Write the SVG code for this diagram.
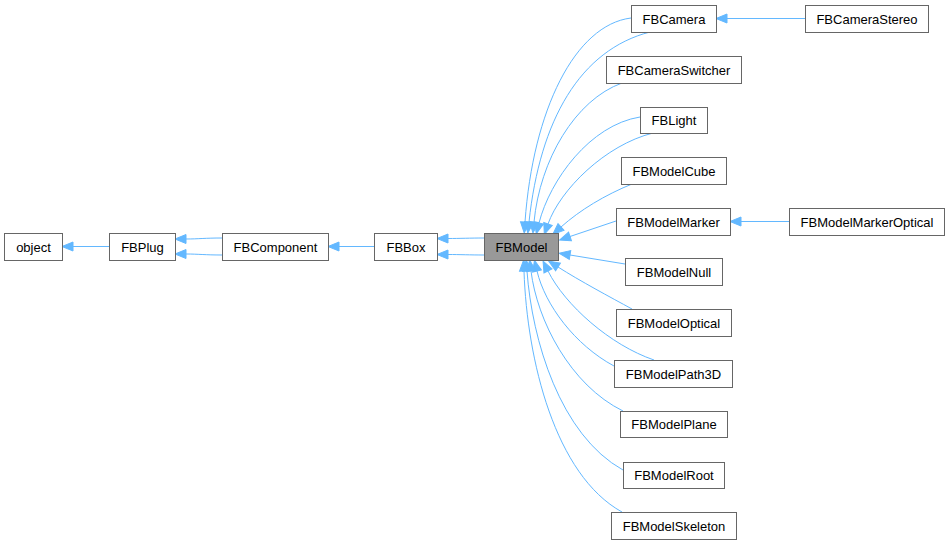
<svg xmlns="http://www.w3.org/2000/svg" width="949" height="544" viewBox="0 0 949 544">
<style>
.n rect{fill:#ffffff;stroke:#666666;stroke-width:1}
.n.cur rect{fill:#999999}
.n text{font-family:"Liberation Sans",Arial,sans-serif;font-size:13px;fill:#000000;text-anchor:middle}
.e path{fill:none;stroke:#63b8ff;stroke-width:1;marker-end:url(#ah)}
</style>
<defs>
<marker id="ah" markerUnits="userSpaceOnUse" markerWidth="11" markerHeight="9" viewBox="0 0 11 9" refX="0" refY="4.5" orient="auto" overflow="visible">
<path d="M0,0 L11,4.5 L0,9 Z" fill="#63b8ff" stroke="#63b8ff" stroke-width="1"/>
</marker>
</defs>
<g id="connectors" class="e">
<path d="M109,246.5 L73,246.5"/>
<path d="M222,238 C205,238 198,239 186,239"/>
<path d="M222,255 C205,255 198,254 186,254"/>
<path d="M374,246.5 L339,246.5"/>
<path d="M484,238 C470,238 460,238.5 448,238.5"/>
<path d="M484,255 C470,255 460,254.5 448,254.5"/>
<path d="M805,18.5 L727,18.5"/>
<path d="M789,221.5 L741,221.5"/>
<path d="M631,18 C575,25 533,110 525,222"/>
<path d="M650,32 C580,50 540,120 529,222"/>
<path d="M622,83 C575,100 540,160 534,222"/>
<path d="M640,117 C590,125 550,180 539,223"/>
<path d="M653,133 C605,145 560,190 548,224"/>
<path d="M632,184 C605,195 580,210 561,227"/>
<path d="M616,221 L570,236.5"/>
<path d="M625,264 L570,255"/>
<path d="M632,309 C610,297 580,281 558,267"/>
<path d="M654,360 C610,345 565,305 548,271"/>
<path d="M614,366 C575,345 545,305 537,271"/>
<path d="M623,411 C570,385 537,320 531,271"/>
<path d="M623,470 C560,435 532,340 527,271"/>
<path d="M622,512 C555,475 527,360 524,271"/>
</g>
<g id="object" class="n"><rect x="4.5" y="233.5" width="58" height="27"/><text x="33.5" y="251.5">object</text></g>
<g id="FBPlug" class="n"><rect x="109.5" y="233.5" width="66" height="27"/><text x="142.5" y="251.5">FBPlug</text></g>
<g id="FBComponent" class="n"><rect x="222.5" y="233.5" width="106" height="27"/><text x="275.5" y="251.5">FBComponent</text></g>
<g id="FBBox" class="n"><rect x="374.5" y="233.5" width="63" height="27"/><text x="406" y="251.5">FBBox</text></g>
<g id="FBModel" class="n cur"><rect x="484.5" y="233.5" width="74" height="27"/><text x="521.5" y="251.5">FBModel</text></g>
<g id="FBCamera" class="n"><rect x="631.5" y="5.5" width="85" height="27"/><text x="674" y="23.5">FBCamera</text></g>
<g id="FBCameraStereo" class="n"><rect x="805.5" y="5.5" width="123" height="27"/><text x="867" y="23.5">FBCameraStereo</text></g>
<g id="FBCameraSwitcher" class="n"><rect x="606.5" y="56.5" width="135" height="27"/><text x="674" y="74.5">FBCameraSwitcher</text></g>
<g id="FBLight" class="n"><rect x="640.5" y="107.5" width="67" height="26"/><text x="674" y="125">FBLight</text></g>
<g id="FBModelCube" class="n"><rect x="621.5" y="157.5" width="105" height="27"/><text x="674" y="175.5">FBModelCube</text></g>
<g id="FBModelMarker" class="n"><rect x="616.5" y="208.5" width="114" height="27"/><text x="673.5" y="226.5">FBModelMarker</text></g>
<g id="FBModelMarkerOptical" class="n"><rect x="789.5" y="208.5" width="155" height="27"/><text x="867" y="226.5">FBModelMarkerOptical</text></g>
<g id="FBModelNull" class="n"><rect x="625.5" y="258.5" width="97" height="27"/><text x="674" y="276.5">FBModelNull</text></g>
<g id="FBModelOptical" class="n"><rect x="616.5" y="309.5" width="115" height="27"/><text x="674" y="327.5">FBModelOptical</text></g>
<g id="FBModelPath3D" class="n"><rect x="614.5" y="360.5" width="118" height="27"/><text x="673.5" y="378.5">FBModelPath3D</text></g>
<g id="FBModelPlane" class="n"><rect x="620.5" y="411.5" width="107" height="26"/><text x="674" y="429">FBModelPlane</text></g>
<g id="FBModelRoot" class="n"><rect x="623.5" y="462.5" width="101" height="26"/><text x="674" y="480">FBModelRoot</text></g>
<g id="FBModelSkeleton" class="n"><rect x="611.5" y="512.5" width="125" height="27"/><text x="674" y="530.5">FBModelSkeleton</text></g>
</svg>
